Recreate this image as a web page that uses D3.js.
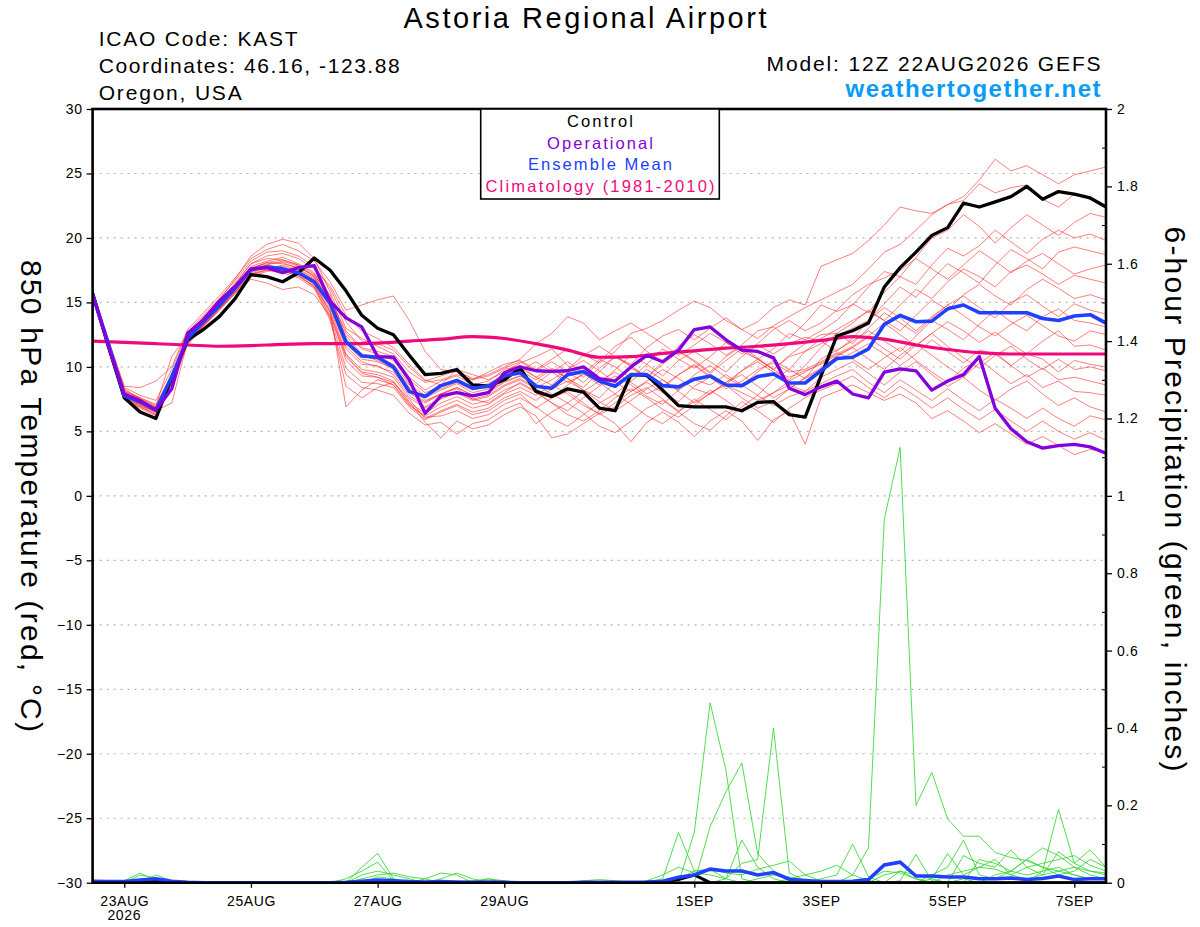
<!DOCTYPE html>
<html>
<head>
<meta charset="utf-8">
<script src="https://cdn.jsdelivr.net/npm/d3@7"></script>
<style>
  body { margin: 0; background: #fff; }
  text { font-family: "Liberation Sans", Arial, Helvetica, sans-serif; }
</style>
</head>
<body>
<svg id="chart" width="1200" height="927"></svg>
<script>
const width = 1200;
const height = 927;
const plot = { left: 92.6, right: 1106, top: 109, bottom: 882.7 };

// 6-hourly steps starting 12Z 22AUG2026
const startTime = "2026-08-22T12:00:00Z";
const endTime = "2026-09-07T12:00:00Z";
const stepHours = 6;
const climStepHours = 12;

const tickDates = ["2026-08-23", "2026-08-25", "2026-08-27", "2026-08-29",
  "2026-09-01", "2026-09-03", "2026-09-05", "2026-09-07"];
const tempTicks = [-30, -25, -20, -15, -10, -5, 0, 5, 10, 15, 20, 25, 30];
const precipTicks = [0, 0.2, 0.4, 0.6, 0.8, 1, 1.2, 1.4, 1.6, 1.8, 2];
const precipMinorTicks = [0.1, 0.3, 0.5, 0.7, 0.9, 1.1, 1.3, 1.5, 1.7, 1.9];

// 850 hPa temperature (C)
const control = [15.7,11.6,7.6,6.5,6.0,9.2,12.1,12.9,13.9,15.3,17.15,17.0,16.6,17.3,18.45,17.5,15.9,14.0,13.0,12.5,10.9,9.4,9.5,9.8,8.6,8.5,9.0,9.9,
  8.1,7.7,8.3,8.05,6.8,6.6,9.4,9.35,8.2,7.0,6.9,6.9,6.9,6.6,7.25,7.3,6.3,6.1,9.3,12.4,
  12.8,13.4,16.2,17.7,18.9,20.2,20.8,22.7,22.4,22.8,23.2,24.0,23.0,23.6,23.4,23.1,22.4];

const operational = [15.7,11.6,7.9,7.4,6.65,8.3,12.6,13.65,15.1,16.25,17.6,17.7,17.3,17.7,17.85,15.1,13.8,13.1,10.8,10.75,9.0,6.4,7.75,8.0,7.75,8.0,9.55,10.0,
  9.7,9.65,9.7,10.0,9.1,8.9,10.0,10.9,10.4,11.3,12.9,13.1,12.1,11.3,11.2,10.7,8.35,7.85,8.45,8.9,
  7.9,7.6,9.6,9.85,9.7,8.2,8.9,9.4,10.8,6.8,5.2,4.2,3.7,3.9,4.0,3.8,3.3];

const ensembleMean = [15.6,11.8,7.75,7.3,6.65,9.25,12.2,13.5,14.75,16.1,17.55,17.75,17.6,17.3,16.6,14.95,11.95,10.85,10.75,10.0,8.1,7.7,8.55,8.95,8.35,8.5,9.3,9.55,
  8.5,8.35,9.4,9.65,8.9,8.5,9.4,9.4,8.55,8.45,9.05,9.3,8.6,8.55,9.25,9.45,8.75,8.75,9.7,10.65,
  10.75,11.4,13.3,14.0,13.5,13.55,14.5,14.8,14.2,14.2,14.2,14.2,13.75,13.6,13.95,14.05,13.4];

// climatology 1981-2010, every 12 hours
const climatology = [12.0,11.9,11.8,11.7,11.6,11.65,11.75,11.8,11.8,11.85,12.0,12.15,12.35,12.2,11.8,11.3,10.75,
  10.8,11.05,11.25,11.45,11.6,11.8,12.05,12.35,12.15,11.7,11.35,11.1,11.0,11.0,11.0,11.0];

// ensemble members
const member01 = [15.9,11.9,8.3,7.5,6.9,9.3,12.4,13.9,15.2,16.8,18.6,19.5,19.9,19.6,18.4,15.8,13.0,12.2,11.6,11.0,9.6,8.8,9.0,9.4,9.0,9.6,10.2,10.5,
  9.8,10.6,11.4,11.0,10.3,11.2,12.6,13.0,13.6,14.4,15.1,14.6,13.6,12.9,13.5,14.6,15.2,14.8,17.8,18.3,
  18.8,19.8,21.0,22.4,22.1,21.9,22.6,23.2,24.5,26.1,25.2,25.6,24.9,24.2,24.9,25.2,25.5];
const member02 = [15.7,11.6,7.9,7.1,6.5,9.0,12.0,13.4,14.6,16.0,17.4,17.9,18.2,17.8,17.0,15.2,12.8,11.5,11.2,10.8,9.2,8.2,8.9,9.3,8.6,8.9,9.8,10.1,
  9.2,8.6,9.8,10.9,11.6,10.8,10.2,11.5,12.4,12.9,12.1,13.0,13.8,12.9,12.2,13.2,13.9,14.6,15.2,15.8,
  16.4,17.6,18.9,19.5,20.6,21.8,22.6,22.9,24.2,23.5,23.9,24.1,23.0,22.4,23.4,23.0,22.5];
const member03 = [15.5,11.8,8.1,7.6,7.0,10.8,12.5,13.8,14.9,16.4,18.0,18.6,18.8,18.4,17.6,16.3,14.0,12.8,12.2,11.5,10.2,9.0,8.6,9.8,9.4,9.0,9.6,10.3,
  10.8,11.4,10.1,9.2,10.4,11.6,12.3,11.2,10.4,11.6,12.5,11.8,10.9,11.7,12.8,13.1,12.2,13.4,14.8,14.3,
  14.8,16.2,17.4,17.0,18.5,20.0,20.6,21.8,20.9,19.6,20.8,21.8,21.0,20.2,21.2,21.9,21.6];
const member04 = [15.8,11.7,7.8,7.2,6.6,9.2,12.1,13.5,14.7,16.1,17.6,18.1,18.0,17.7,17.1,15.6,12.2,10.8,10.6,10.1,8.4,7.6,8.2,8.7,8.0,8.3,9.0,9.7,
  10.4,9.6,8.8,9.4,10.6,10.0,9.1,10.2,11.4,10.6,9.9,10.8,11.9,11.2,10.6,11.4,12.6,12.1,12.8,13.6,
  14.9,14.2,15.8,17.0,16.4,17.9,19.2,18.6,19.4,20.6,19.7,18.8,19.9,20.6,20.0,20.3,19.8];
const member05 = [15.6,11.4,7.6,6.9,6.3,8.8,11.8,13.2,14.5,15.8,17.2,17.6,17.9,17.5,16.8,15.0,11.6,10.4,10.0,9.6,8.0,7.2,7.9,8.4,7.8,8.1,8.9,9.3,
  8.7,9.6,10.4,9.5,8.6,9.8,10.9,10.2,9.3,10.5,11.2,10.4,9.6,10.8,11.7,11.0,11.8,12.3,12.0,11.2,
  12.2,13.6,14.9,16.2,15.4,16.8,18.0,17.3,16.5,17.9,19.1,18.4,17.6,18.9,19.3,19.0,18.7];
const member06 = [15.9,12.0,8.4,7.8,7.4,9.8,12.7,14.0,15.3,16.7,18.2,18.9,19.0,18.6,17.8,16.1,13.5,12.0,11.8,11.3,10.0,8.9,9.3,9.7,9.1,9.4,10.0,10.6,
  11.8,12.6,13.9,13.4,12.1,12.8,13.4,12.6,11.8,10.9,11.7,12.6,11.9,11.0,11.8,12.9,13.6,12.8,13.4,14.4,
  15.6,16.4,16.9,17.5,18.4,17.6,16.8,17.9,19.0,18.2,17.3,18.2,18.8,18.0,17.2,17.6,17.9];
const member07 = [15.7,11.7,8.0,7.4,6.8,9.1,12.2,13.6,14.9,16.3,17.8,18.2,18.5,18.0,17.3,15.4,12.6,11.4,11.0,10.5,9.0,8.0,8.5,9.0,8.4,8.7,9.4,9.9,
  9.2,9.9,9.1,8.4,9.6,10.8,10.0,9.2,10.4,11.3,10.5,9.6,10.8,11.6,10.7,9.8,10.9,11.8,12.5,12.6,
  13.4,14.4,13.6,14.8,16.0,15.3,16.6,17.6,17.0,16.2,17.4,17.9,17.2,16.4,17.1,16.8,16.5];
const member08 = [15.6,11.5,7.7,7.0,6.4,8.9,11.9,13.3,14.6,15.9,17.3,17.7,17.8,17.4,16.7,14.6,11.0,9.8,9.6,9.2,7.6,6.8,7.5,8.0,7.4,7.7,8.5,9.0,
  8.3,7.6,8.6,9.5,8.8,7.9,8.9,9.8,9.0,8.2,9.4,10.1,9.2,8.5,9.6,10.5,9.8,11.2,12.2,12.9,
  13.6,14.3,13.6,12.8,14.0,15.2,14.4,15.6,16.4,15.5,14.8,16.0,16.8,16.1,15.3,15.6,15.2];
const member09 = [15.8,11.8,8.2,7.6,7.1,9.4,12.4,13.7,15.0,16.5,18.0,18.4,18.3,17.9,17.2,15.3,11.8,10.6,10.4,9.9,8.6,7.8,8.3,8.8,8.2,8.5,9.2,9.7,
  9.0,9.8,9.1,8.2,7.6,8.8,9.9,9.2,8.3,9.4,10.2,9.3,8.6,9.7,10.6,9.8,9.0,10.1,11.5,12.6,
  11.8,13.0,14.2,13.4,12.6,13.8,14.8,15.5,14.6,13.8,15.0,15.6,14.7,13.9,14.9,14.4,14.1];
const member10 = [15.5,11.3,7.5,6.8,6.2,8.7,11.7,13.1,14.4,15.7,17.0,17.4,17.6,17.2,16.4,14.2,10.5,9.3,9.2,8.8,7.2,6.4,7.2,7.7,7.1,7.4,8.2,8.7,
  8.0,7.2,6.6,7.6,8.5,9.3,8.6,7.7,7.1,8.2,9.0,8.6,9.4,8.6,7.8,9.0,9.8,9.1,10.6,11.3,
  12.0,12.8,12.0,11.2,12.4,13.6,12.9,12.1,13.3,14.4,13.5,12.8,13.9,14.5,13.6,13.4,13.1];
const member11 = [15.9,12.1,8.5,8.4,8.9,10.0,12.9,14.2,15.5,16.9,18.4,19.1,19.5,19.0,18.2,16.6,14.4,14.8,15.2,15.5,13.6,11.2,9.8,9.6,9.0,9.3,9.9,10.4,
  9.7,10.4,9.6,8.8,9.9,10.8,10.1,9.2,10.2,11.2,10.4,9.5,10.5,11.4,10.6,9.8,10.8,11.2,11.8,12.4,
  13.0,13.6,14.6,13.8,12.8,13.9,14.8,14.0,13.1,12.4,13.3,14.0,13.2,12.4,12.0,12.8,12.5];
const member12 = [15.7,11.6,7.8,7.2,6.7,9.1,12.1,13.5,14.8,16.2,17.6,17.9,17.7,17.3,16.5,14.4,6.9,8.2,9.0,8.6,7.0,6.2,6.9,7.4,6.8,7.1,7.9,8.4,
  7.8,8.6,7.9,7.0,6.4,7.2,8.1,8.8,8.0,7.3,8.5,9.2,8.6,8.0,7.4,8.0,8.9,9.6,10.3,11.0,
  11.6,12.4,13.4,12.5,11.6,12.6,13.5,12.8,11.9,12.7,11.8,11.0,12.0,12.8,11.6,11.7,11.3];
const member13 = [15.6,11.5,7.6,7.0,6.5,8.9,11.9,13.3,14.5,15.8,17.1,17.5,17.4,17.1,16.2,13.8,8.5,7.6,8.4,8.8,7.5,6.0,6.6,7.1,6.5,6.8,7.6,8.1,
  7.4,8.3,8.9,8.2,7.3,6.6,7.4,8.3,9.0,8.1,7.2,7.9,8.8,9.4,8.5,7.6,8.3,9.1,9.8,10.5,
  11.1,11.8,11.0,10.1,11.0,12.1,11.2,10.3,11.3,11.0,10.1,11.0,10.6,9.6,10.5,10.2,10.0];
const member14 = [15.8,11.9,8.1,7.5,6.9,9.3,12.3,13.6,14.9,16.3,17.7,18.0,18.1,17.6,16.9,15.1,12.4,11.0,10.8,10.2,8.7,7.4,7.9,8.3,7.5,7.2,8.0,8.8,
  8.1,7.2,6.3,5.8,6.6,7.6,8.3,7.6,6.7,6.1,7.0,8.0,8.6,7.6,6.8,7.3,8.3,9.2,9.9,10.8,
  11.5,12.3,11.4,10.6,11.7,12.6,11.6,10.7,9.9,10.9,11.6,10.6,9.8,10.6,9.8,10.0,9.7];
const member15 = [15.6,11.4,7.7,7.1,6.6,9.0,12.0,13.4,14.6,16.0,17.4,17.8,17.7,17.2,16.4,14.8,11.4,10.2,10.1,9.4,7.8,6.9,7.6,8.1,7.5,7.8,8.6,9.1,
  8.4,9.0,9.8,10.5,9.7,8.8,8.1,8.9,9.8,9.1,8.3,7.9,8.8,9.7,10.4,9.6,9.2,9.7,10.2,10.9,
  11.5,10.6,9.8,10.9,11.8,10.9,10.0,9.2,10.3,11.1,10.1,9.2,9.9,9.0,9.2,8.9,8.6];
const member16 = [15.7,11.7,7.9,7.3,6.8,9.2,12.2,13.6,14.8,16.2,17.6,18.1,18.3,17.9,17.0,15.1,12.0,10.9,10.5,9.8,8.2,7.3,7.9,8.4,7.8,8.0,8.8,9.3,
  8.6,7.9,7.2,8.1,8.9,9.6,8.8,7.9,8.5,9.4,10.1,9.2,8.3,8.9,9.8,10.3,9.6,9.8,10.4,11.1,
  10.6,9.8,10.7,11.5,10.5,9.6,8.8,9.9,10.6,9.6,8.7,9.4,8.4,8.9,8.1,8.0,7.8];
const member17 = [15.5,11.3,7.5,6.9,6.3,8.8,11.8,13.2,14.4,15.7,16.8,16.5,16.0,16.2,15.6,13.9,9.9,8.8,8.7,8.4,6.9,5.9,6.5,7.0,6.3,6.6,7.4,7.9,
  6.8,7.6,8.1,7.2,6.3,6.9,7.8,8.4,7.5,6.6,7.3,8.2,7.4,6.5,7.2,8.0,8.6,8.1,9.2,9.8,
  10.4,9.5,8.6,9.6,10.4,9.4,8.5,9.2,8.2,7.4,8.3,8.9,7.9,7.0,7.6,6.9,6.5];
const member18 = [15.8,11.8,8.0,7.4,6.8,9.1,12.1,13.5,14.8,16.1,17.5,17.8,17.6,17.1,16.2,14.0,10.8,9.5,9.2,8.6,7.1,6.1,6.2,6.6,6.0,6.3,7.1,7.6,
  6.9,6.0,5.4,6.3,7.2,7.9,7.1,6.2,5.6,6.5,7.5,6.7,5.9,6.9,7.8,7.0,7.7,8.1,8.7,9.3,
  9.8,8.8,8.0,9.0,8.2,7.4,8.3,7.4,6.6,7.5,6.8,6.0,6.8,6.0,5.4,6.2,5.9];
const member19 = [15.6,11.5,7.7,7.1,6.5,8.9,11.9,13.2,14.5,15.8,17.2,17.5,17.3,16.9,16.1,13.6,9.4,8.4,8.2,7.8,6.4,5.5,5.7,4.8,5.6,5.9,6.7,7.2,
  5.6,6.5,7.2,6.4,5.4,4.9,5.8,6.8,7.4,6.5,5.6,5.1,6.2,7.3,6.6,5.7,6.8,7.6,8.2,8.7,
  9.3,8.4,7.6,8.5,7.7,6.8,7.6,6.7,5.9,6.7,5.8,5.0,5.8,5.0,4.4,4.9,4.3];
const member20 = [15.7,11.6,7.8,7.2,6.6,7.2,12.0,13.4,14.7,16.0,17.4,17.7,17.5,17.0,16.3,14.3,10.9,9.6,9.4,8.9,7.3,5.7,4.5,5.8,5.2,5.5,6.3,6.9,
  6.2,4.5,4.8,5.6,6.4,5.6,4.2,5.7,6.5,5.7,4.6,5.8,6.6,5.8,4.3,5.9,6.6,4.0,7.6,8.1,
  8.6,8.0,7.4,7.9,7.2,6.0,6.6,5.8,4.9,5.6,4.8,4.0,4.6,3.9,3.2,3.6,3.4];

const members = [member01, member02, member03, member04, member05, member06, member07,
  member08, member09, member10, member11, member12, member13, member14, member15,
  member16, member17, member18, member19, member20];

// 6-hour precipitation (inches)
const precipMean = [0.004,0.003,0.003,0.007,0.01,0.004,0.001,0,0,0,
  0,0,0,0,0,0,0.001,0.004,0.007,0.005,
  0.003,0.002,0.003,0.002,0.001,0.002,0.001,0,0,0,
  0,0.001,0.001,0.001,0.001,0.002,0.004,0.014,0.02,0.035,
  0.03,0.03,0.02,0.026,0.009,0.006,0.003,0.003,0.004,0.008,
  0.046,0.053,0.017,0.017,0.015,0.015,0.01,0.01,0.012,0.008,
  0.011,0.017,0.008,0.01,0.01];
const precipControl = [0,0,0,0.002,0.004,0,0,0,0,0,
  0,0,0,0,0,0,0,0,0,0,
  0,0,0,0,0,0,0,0,0,0,
  0,0,0,0,0,0,0.002,0.008,0.02,0,
  0,0,0,0,0,0,0,0,0,0,
  0,0,0,0,0,0,0,0,0,0,
  0,0,0,0,0];
const precip01 = [0,0,0,0.02,0.012,0,0,0,0,0,
  0,0,0,0,0,0,0,0.04,0.076,0.01,
  0,0,0,0,0,0,0,0,0,0,
  0,0,0,0,0,0,0,0,0.13,0.465,
  0.29,0.01,0,0,0,0,0,0,0.02,0.09,
  0.94,1.125,0.2,0.285,0.165,0.12,0.12,0.078,0.065,0.057,
  0.04,0.03,0.02,0.01,0.015];
const precip02 = [0,0,0,0,0.02,0.005,0,0,0,0,
  0,0,0,0,0,0,0.01,0.03,0.053,0.005,
  0,0.01,0.025,0.02,0,0,0,0,0,0,
  0,0,0,0,0,0,0.01,0.13,0.03,0.035,
  0.01,0,0,0,0.005,0,0,0,0,0,
  0,0.005,0.073,0.005,0,0,0,0,0,0,
  0.03,0.19,0.05,0.03,0.025];
const precip03 = [0,0,0.005,0.025,0.005,0,0,0,0,0,
  0,0,0,0,0,0,0,0.02,0.03,0.02,
  0.01,0,0.01,0.025,0.01,0,0,0,0,0,
  0,0,0,0,0,0,0,0,0,0.145,
  0.235,0.31,0.075,0.03,0.01,0,0,0,0,0,
  0,0,0,0.01,0.075,0.02,0.04,0.035,0.02,0.04,
  0.05,0.06,0.07,0.045,0.03];
const precip04 = [0,0,0,0,0,0,0,0,0,0,
  0,0,0,0,0,0,0,0.01,0.02,0.025,
  0.015,0.01,0,0,0,0.01,0.005,0,0,0,
  0,0,0,0,0,0,0,0,0,0,
  0.01,0.11,0.04,0.01,0,0,0.01,0.02,0.1,0.015,
  0,0,0,0,0,0.07,0.05,0.04,0.085,0.04,
  0.02,0.08,0.05,0.085,0.04];
const precip05 = [0,0,0,0,0,0,0,0,0,0,
  0,0,0,0,0,0,0,0,0.015,0.01,
  0,0,0,0,0.005,0.01,0,0,0,0,
  0,0,0,0,0,0.005,0.02,0.04,0.025,0.02,
  0.01,0.05,0.06,0.4,0.025,0.005,0,0,0,0,
  0.02,0.03,0.01,0,0,0,0.06,0.05,0.03,0.06,
  0.09,0.07,0.04,0.02,0.01];
const precip06 = [0,0,0,0,0,0,0,0,0,0,
  0,0,0,0,0,0,0,0,0,0,
  0,0,0,0,0,0,0,0,0,0,
  0,0,0,0,0,0,0,0.01,0.03,0.035,
  0.025,0.02,0.035,0.045,0.056,0.02,0.005,0,0,0,
  0,0,0,0.02,0.04,0.11,0.02,0.01,0.03,0.06,
  0.04,0.02,0.03,0.06,0.04];
const precip07 = [0,0,0,0,0,0,0,0,0,0,
  0,0,0,0,0,0,0,0,0,0,
  0,0,0,0,0,0,0,0,0,0,
  0,0,0,0,0,0,0,0,0,0,
  0,0,0,0,0.01,0.02,0.03,0.045,0.02,0.005,
  0,0.03,0.02,0.01,0,0.01,0,0.02,0.03,0.02,
  0.03,0.04,0.02,0.01,0.01];
const precip08 = [0,0,0,0,0,0,0,0,0,0,
  0,0,0,0,0,0,0,0,0,0,
  0,0,0,0,0,0,0,0,0,0,
  0,0.005,0.008,0.005,0,0,0,0,0,0,
  0,0,0.01,0.02,0.015,0,0,0,0,0.01,
  0.03,0.025,0.01,0,0.02,0.03,0.04,0.06,0.02,0.01,
  0.02,0.03,0.04,0.03,0.02];

const precipMembers = [precip01, precip02, precip03, precip04, precip05, precip06, precip07, precip08];

// scales
const svg = d3.select("#chart");
svg.append("rect").attr("width", width).attr("height", height).attr("fill", "#fff");

const x = d3.scaleUtc()
  .domain([new Date(startTime), new Date(endTime)])
  .range([plot.left, plot.right]);
const yT = d3.scaleLinear().domain([-30, 30]).range([plot.bottom, plot.top]);
const yP = d3.scaleLinear().domain([0, 2]).range([plot.bottom, plot.top]);

const t0 = new Date(startTime);
const timeAt = (i, step) => d3.utcHour.offset(t0, i * step);

const tempLine = d3.line()
  .x((d, i) => x(timeAt(i, stepHours)))
  .y((d) => yT(d));
const precipLine = d3.line()
  .x((d, i) => x(timeAt(i, stepHours)))
  .y((d) => yP(d));
const climLine = d3.line()
  .x((d, i) => x(timeAt(i, climStepHours)))
  .y((d) => yT(d))
  .curve(d3.curveMonotoneX);

svg.append("defs")
  .append("clipPath")
  .attr("id", "plot-clip")
  .append("rect")
  .attr("x", plot.left)
  .attr("y", plot.top)
  .attr("width", plot.right - plot.left)
  .attr("height", plot.bottom - plot.top);

// dotted grid
svg.append("g")
  .attr("class", "grid")
  .selectAll("line")
  .data(tempTicks.filter((d) => d > -30 && d < 30))
  .join("line")
  .attr("x1", plot.left)
  .attr("x2", plot.right)
  .attr("y1", (d) => yT(d))
  .attr("y2", (d) => yT(d))
  .attr("stroke", "#b4b4b4")
  .attr("stroke-width", 1.2)
  .attr("stroke-dasharray", "2,5");

const lines = svg.append("g").attr("clip-path", "url(#plot-clip)");

// members
lines.append("g")
  .selectAll("path")
  .data(members)
  .join("path")
  .attr("d", tempLine)
  .attr("fill", "none")
  .attr("stroke", "#ff2a2a")
  .attr("stroke-opacity", 0.6)
  .attr("stroke-width", 1);

lines.append("g")
  .selectAll("path")
  .data(precipMembers)
  .join("path")
  .attr("d", precipLine)
  .attr("fill", "none")
  .attr("stroke", "#33d633")
  .attr("stroke-opacity", 0.85)
  .attr("stroke-width", 1);

lines.append("path")
  .attr("d", precipLine(precipControl))
  .attr("fill", "none")
  .attr("stroke", "#000")
  .attr("stroke-width", 3);

lines.append("path")
  .attr("d", precipLine(precipMean))
  .attr("fill", "none")
  .attr("stroke", "#2040ff")
  .attr("stroke-width", 3.5);

lines.append("path")
  .attr("d", climLine(climatology))
  .attr("fill", "none")
  .attr("stroke", "#ee0a7a")
  .attr("stroke-width", 3.2);

lines.append("path")
  .attr("d", tempLine(control))
  .attr("fill", "none")
  .attr("stroke", "#000")
  .attr("stroke-width", 3.3)
  .attr("stroke-linejoin", "round");

lines.append("path")
  .attr("d", tempLine(ensembleMean))
  .attr("fill", "none")
  .attr("stroke", "#2040ff")
  .attr("stroke-width", 3.6)
  .attr("stroke-linejoin", "round");

lines.append("path")
  .attr("d", tempLine(operational))
  .attr("fill", "none")
  .attr("stroke", "#8400dc")
  .attr("stroke-width", 3.3)
  .attr("stroke-linejoin", "round");

// axes
const leftAxis = svg.append("g")
  .attr("transform", `translate(${plot.left},0)`)
  .call(d3.axisLeft(yT).tickValues(tempTicks).tickSize(6).tickPadding(4).tickFormat(d3.format("d")));

const rightAxis = svg.append("g")
  .attr("transform", `translate(${plot.right},0)`)
  .call(d3.axisRight(yP).tickValues(precipTicks).tickSize(6).tickPadding(5).tickFormat(d3.format("~g")));

svg.append("g")
  .attr("transform", `translate(${plot.right},0)`)
  .call(d3.axisRight(yP).tickValues(precipMinorTicks).tickSize(-4).tickFormat(""))
  .select(".domain").remove();

const bottomAxis = svg.append("g")
  .attr("transform", `translate(0,${plot.bottom})`)
  .call(d3.axisBottom(x)
    .tickValues(tickDates.map((d) => new Date(d + "T00:00:00Z")))
    .tickSize(5)
    .tickPadding(5)
    .tickFormat((d) => d3.utcFormat("%-d%b")(d).toUpperCase()));

[leftAxis, rightAxis, bottomAxis].forEach((g) => {
  g.select(".domain").remove();
  g.selectAll(".tick line").attr("stroke", "#000").attr("stroke-width", 1.3);
  g.selectAll(".tick text")
    .attr("font-size", 14)
    .attr("fill", "#000")
    .style("letter-spacing", "0.6px");
});

bottomAxis.selectAll(".tick text").attr("dy", "0.95em");

svg.append("text")
  .attr("x", x(new Date(tickDates[0] + "T00:00:00Z")))
  .attr("y", 920)
  .attr("text-anchor", "middle")
  .attr("font-size", 14)
  .style("letter-spacing", "0.6px")
  .text("2026");

// frame
svg.append("rect")
  .attr("x", plot.left)
  .attr("y", plot.top)
  .attr("width", plot.right - plot.left)
  .attr("height", plot.bottom - plot.top)
  .attr("fill", "none")
  .attr("stroke", "#000")
  .attr("stroke-width", 2.6);

// legend box
const legendRows = [
  { text: "Control", color: "#000", len: 66 },
  { text: "Operational", color: "#8400dc", len: 106 },
  { text: "Ensemble Mean", color: "#2040ff", len: 144 },
  { text: "Climatology (1981-2010)", color: "#ee0a7a", len: 229 },
];

svg.append("rect")
  .attr("x", 480.7)
  .attr("y", plot.top)
  .attr("width", 238.6)
  .attr("height", 90)
  .attr("fill", "#fff")
  .attr("stroke", "#000")
  .attr("stroke-width", 1.6);

svg.append("g")
  .selectAll("text")
  .data(legendRows)
  .join("text")
  .attr("x", 600)
  .attr("y", (d, i) => 127 + i * 21.5)
  .attr("text-anchor", "middle")
  .attr("font-size", 16.5)
  .attr("textLength", (d) => d.len)
  .attr("lengthAdjust", "spacing")
  .attr("fill", (d) => d.color)
  .text((d) => d.text);

// titles
svg.append("text")
  .attr("x", 585)
  .attr("y", 28)
  .attr("text-anchor", "middle")
  .attr("font-size", 29)
  .attr("textLength", 363)
  .attr("lengthAdjust", "spacing")
  .text("Astoria Regional Airport");

const infoLeft = [
  { text: "ICAO Code: KAST", y: 46, len: 199 },
  { text: "Coordinates: 46.16, -123.88", y: 73, len: 301 },
  { text: "Oregon, USA", y: 100, len: 143 },
];

svg.append("g")
  .selectAll("text")
  .data(infoLeft)
  .join("text")
  .attr("x", 98.7)
  .attr("y", (d) => d.y)
  .attr("font-size", 21)
  .attr("textLength", (d) => d.len)
  .attr("lengthAdjust", "spacing")
  .text((d) => d.text);

svg.append("text")
  .attr("x", 1100.6)
  .attr("y", 71)
  .attr("text-anchor", "end")
  .attr("font-size", 21)
  .attr("textLength", 334)
  .attr("lengthAdjust", "spacing")
  .text("Model: 12Z 22AUG2026 GEFS");

svg.append("text")
  .attr("x", 1100.6)
  .attr("y", 97)
  .attr("text-anchor", "end")
  .attr("font-size", 24)
  .attr("font-weight", "bold")
  .attr("fill", "#0a9cf5")
  .attr("textLength", 255)
  .attr("lengthAdjust", "spacing")
  .text("weathertogether.net");

// axis titles
svg.append("text")
  .attr("transform", "translate(21,496) rotate(90)")
  .attr("text-anchor", "middle")
  .attr("font-size", 30)
  .attr("textLength", 472)
  .attr("lengthAdjust", "spacing")
  .text("850 hPa Temperature (red, °C)");

svg.append("text")
  .attr("transform", "translate(1165,499) rotate(90)")
  .attr("text-anchor", "middle")
  .attr("font-size", 30)
  .attr("textLength", 545)
  .attr("lengthAdjust", "spacing")
  .text("6-hour Precipitation (green, inches)");
</script>
</body>
</html>
